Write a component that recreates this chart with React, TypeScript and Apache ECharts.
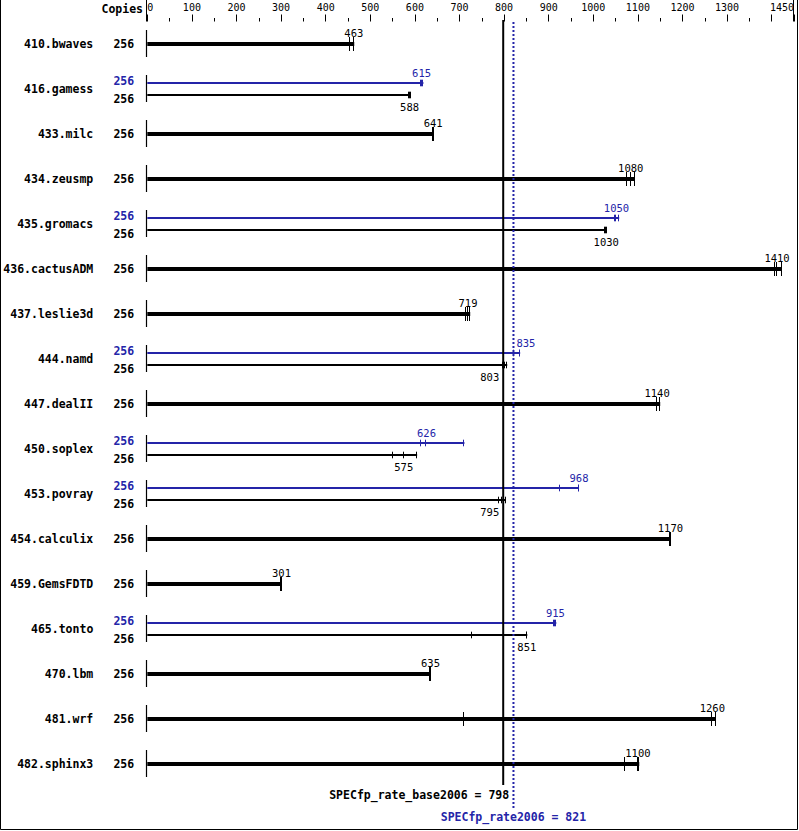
import React, { useEffect, useRef } from 'react';
import * as echarts from 'echarts';

const benchmarks = [
  '410.bwaves', '416.gamess', '433.milc', '434.zeusmp', '435.gromacs', '436.cactusADM',
  '437.leslie3d', '444.namd', '447.dealII', '450.soplex', '453.povray', '454.calculix',
  '459.GemsFDTD', '465.tonto', '470.lbm', '481.wrf', '482.sphinx3',
];
const baseCopies = [256, 256, 256, 256, 256, 256, 256, 256, 256, 256, 256, 256, 256, 256, 256, 256, 256];
const peakCopies: (number | null)[] = [null, 256, null, null, 256, null, null, 256, null, 256, 256, null, null, 256, null, null, null];
const baseRuns: number[][] = [
  [454, 463, 464], [587, 588, 591], [641, 641, 642], [1075, 1084, 1093], [1027, 1029, 1030],
  [1407, 1412, 1423], [714, 719, 724], [798, 803, 807], [1142, 1143, 1150], [552, 575, 605],
  [788, 795, 804], [1173, 1173, 1174], [300, 301, 301], [727, 851, 852], [634, 635, 636],
  [709, 1267, 1275], [1070, 1100, 1103],
];
const baseLabels = ['463', '588', '641', '1080', '1030', '1410', '719', '803', '1140', '575', '795', '1170', '301', '851', '635', '1260', '1100'];
const peakRuns: (number[] | null)[] = [
  null, [614, 615, 619], null, null, [1048, 1052, 1058], null, null, [823, 835, 836], null,
  [613, 626, 711], [926, 968, 968], null, null, [913, 915, 917], null, null, null,
];
const peakLabels: (string | null)[] = [null, '615', null, null, '1050', null, null, '835', null, '626', '968', null, null, '915', null, null, null];
const axisMin = 0;
const axisMax = 1450;
const axisInterval = 100;
const hiddenTickLabels = [1400];
const baseScore = 798;
const peakScore = 821;
const baseScoreText = 'SPECfp_rate_base2006 = 798';
const peakScoreText = 'SPECfp_rate2006 = 821';

const BLUE = '#2424a8';
const MONO = '"DejaVu Sans Mono", "Liberation Mono", monospace';
const CHAR_W = 6.3;

export default function App() {
  const ref = useRef<HTMLDivElement>(null);
  useEffect(() => {
    document.body.style.margin = '0';
    const chart = echarts.init(ref.current!, undefined, { renderer: 'svg' });
    const refXs: number[] = [];

    const valueLabel = (api: any, text: string, anchor: number, y: number, color: string, preferLeft: boolean) => {
      let cx = api.coord([anchor, 0])[0];
      const w = text.length * CHAR_W;
      const lines = [api.coord([baseScore, 0])[0], api.coord([peakScore, 0])[0]];
      for (const lx of lines) {
        if (cx - w / 2 < lx + 2 && cx + w / 2 > lx - 2) {
          if (preferLeft) cx = lx - 4 - w / 2;
          else cx = lx + 3 + w / 2;
        }
      }
      return {
        type: 'text',
        style: { text, x: cx, y, align: 'center', verticalAlign: 'middle', fill: color, font: `10.5px ${MONO}` },
      };
    };

    const runsGroup = (api: any, runs: number[], y: number, width: number, tickHalf: number, color: string) => {
      const x0 = api.coord([0, 0])[0];
      const xMax = api.coord([Math.max(...runs), 0])[0];
      const els: any[] = [
        { type: 'line', shape: { x1: x0, y1: y, x2: xMax, y2: y }, style: { stroke: color, lineWidth: width } },
      ];
      runs.forEach((r) => {
        const xr = Math.round(api.coord([r, 0])[0]) - 0.5;
        els.push({ type: 'line', shape: { x1: xr, y1: y - tickHalf, x2: xr, y2: y + tickHalf }, style: { stroke: color, lineWidth: 1 } });
      });
      return els;
    };

    const renderRow = (params: any, api: any) => {
      const i = api.value(1);
      const [x0, cy] = api.coord([0, i]);
      const els: any[] = [];
      const bx = Math.round(x0) - 0.5;
      els.push({ type: 'line', shape: { x1: bx, y1: cy - 14, x2: bx, y2: cy + 13 }, style: { stroke: '#000', lineWidth: 1.2 } });
      const base = baseRuns[i];
      const peak = peakRuns[i];
      const copiesX = x0 - 23.5;
      if (peak) {
        const py = cy - 6;
        const by = cy + 6;
        els.push(...runsGroup(api, peak, py, 2, 3.3, BLUE));
        els.push(...runsGroup(api, base, by, 2, 3.3, '#000'));
        els.push(valueLabel(api, peakLabels[i] as string, [...peak].sort((a, b) => a - b)[1], py - 10.5, BLUE, false));
        els.push(valueLabel(api, baseLabels[i], [...base].sort((a, b) => a - b)[1], by + 11.5, '#000', true));
        els.push({ type: 'text', style: { text: String(peakCopies[i]), x: copiesX, y: cy - 8.5, align: 'center', verticalAlign: 'middle', fill: BLUE, font: `bold 11.5px ${MONO}` } });
        els.push({ type: 'text', style: { text: String(baseCopies[i]), x: copiesX, y: cy + 9.5, align: 'center', verticalAlign: 'middle', fill: '#000', font: `bold 11.5px ${MONO}` } });
      } else {
        els.push(...runsGroup(api, base, cy, 4, 7, '#000'));
        els.push(valueLabel(api, baseLabels[i], [...base].sort((a, b) => a - b)[1], cy - 11.5, '#000', true));
        els.push({ type: 'text', style: { text: String(baseCopies[i]), x: copiesX, y: cy, align: 'center', verticalAlign: 'middle', fill: '#000', font: `bold 11.5px ${MONO}` } });
      }
      return { type: 'group', children: els };
    };

    const renderRef = (params: any, api: any) => {
      const v = api.value(0);
      const kind = api.value(1);
      const cs = params.coordSys;
      const x = api.coord([v, 0])[0];
      const bottom = cs.y + cs.height;
      if (kind === 0) {
        return {
          type: 'group',
          children: [
            { type: 'line', shape: { x1: x, y1: cs.y - 1.5, x2: x, y2: bottom - 1.5 }, style: { stroke: '#000', lineWidth: 2 } },
            { type: 'text', style: { text: baseScoreText, x: x + 6, y: bottom + 8.5, align: 'right', verticalAlign: 'middle', fill: '#000', font: `bold 11.5px ${MONO}` } },
          ],
        };
      }
      return {
        type: 'group',
        children: [
          { type: 'line', shape: { x1: x, y1: cs.y + 0.5, x2: x, y2: bottom + 21.5 }, style: { stroke: BLUE, lineWidth: 2, lineDash: [2, 2] } },
          { type: 'text', style: { text: peakScoreText, x, y: bottom + 30.5, align: 'center', verticalAlign: 'middle', fill: BLUE, font: `bold 11.5px ${MONO}` } },
        ],
      };
    };

    const renderEnds = (params: any, api: any) => {
      const v = api.value(0);
      const cs = params.coordSys;
      const x = Math.round(api.coord([v, 0])[0]) - 0.5;
      return { type: 'line', shape: { x1: x, y1: 0, x2: x, y2: cs.y }, style: { stroke: '#000', lineWidth: 1 } };
    };

    chart.setOption({
      animation: false,
      backgroundColor: '#fff',
      grid: { left: 147.3, right: 5, top: 21.5, bottom: 44.5, outerBoundsMode: 'none', containLabel: false },
      xAxis: {
        type: 'value',
        position: 'top',
        min: axisMin,
        max: axisMax,
        interval: axisInterval,
        axisLine: { show: false },
        axisTick: { show: true, length: 7, lineStyle: { color: '#000', width: 1 } },
        minorTick: { show: true, splitNumber: 2, length: 3.5, lineStyle: { color: '#000', width: 1 } },
        splitLine: { show: false },
        minorSplitLine: { show: false },
        axisLabel: {
          margin: 9,
          color: '#000',
          fontFamily: MONO,
          fontSize: 10,
          alignMinLabel: 'left',
          alignMaxLabel: 'right',
          showMinLabel: true,
          showMaxLabel: true,
          hideOverlap: false,
          formatter: (v: number) => (hiddenTickLabels.includes(v) ? '' : String(v)),
        },
      },
      yAxis: {
        type: 'category',
        inverse: true,
        data: benchmarks,
        axisLine: { show: false },
        axisTick: { show: false },
        splitLine: { show: false },
        axisLabel: { margin: 54, color: '#000', fontFamily: MONO, fontWeight: 'bold', fontSize: 11.5, interval: 0 },
      },
      graphic: [
        { type: 'text', style: { text: 'Copies', x: 143, y: 9, align: 'right', verticalAlign: 'middle', fill: '#000', font: `bold 11.5px ${MONO}` } },
        { type: 'polyline', shape: { points: [[0.5, 0], [0.5, 829.5], [797.5, 829.5], [797.5, 0]] }, style: { stroke: '#000', lineWidth: 1, fill: 'none' } },
      ],
      series: [
        { type: 'custom', name: 'rows', renderItem: renderRow, clip: false, silent: true, data: benchmarks.map((_, i) => [0, i]) },
        { type: 'custom', name: 'ref', renderItem: renderRef, clip: false, silent: true, z: 3, data: [[baseScore, 0], [peakScore, 1]] },
        { type: 'custom', name: 'ends', renderItem: renderEnds, clip: false, silent: true, data: [[axisMin, 0], [axisMax, 0]] },
      ],
    });
    return () => chart.dispose();
  }, []);
  return <div ref={ref} style={{ width: 799, height: 831 }} />;
}
